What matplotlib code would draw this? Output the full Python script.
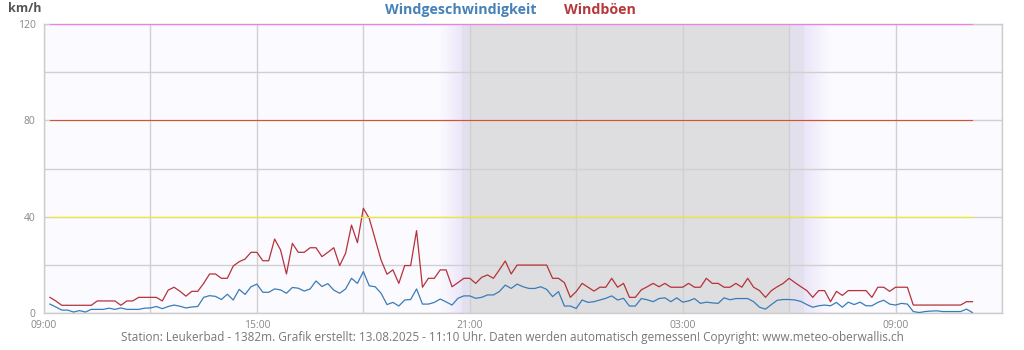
import numpy as np
import matplotlib
matplotlib.use("Agg")
import matplotlib.pyplot as plt
from matplotlib.colors import to_rgba

# Wind speed (km/h), 10-minute values from 09:10 to 11:10 next day
wind_speed = [
    3.7, 2.5, 1.2, 1.2, 0.4, 1.0, 0.4, 1.5, 1.5, 1.5,
    2.0, 1.5, 2.1, 1.5, 1.5, 1.5, 2.0, 2.1, 2.7, 1.8,
    2.7, 3.3, 2.8, 2.1, 2.5, 2.7, 6.5, 7.2, 6.9, 5.6,
    7.8, 5.4, 9.8, 7.7, 10.9, 12.0, 8.6, 8.6, 10.0, 9.6,
    8.2, 10.6, 10.3, 9.1, 10.0, 13.3, 11.0, 12.2, 9.5, 8.2,
    10.0, 14.4, 12.3, 17.2, 11.3, 10.9, 8.2, 3.5, 4.4, 2.9,
    5.4, 5.6, 10.0, 3.7, 3.7, 4.4, 5.8, 4.6, 3.3, 6.1,
    7.1, 7.1, 6.1, 6.5, 7.5, 7.5, 8.9, 11.6, 10.2, 12.0,
    10.9, 10.2, 10.2, 10.9, 9.8, 6.8, 8.9, 2.9, 2.9, 1.9,
    5.4, 4.4, 4.7, 5.4, 6.1, 7.1, 5.4, 6.1, 2.9, 2.9,
    6.0, 5.5, 4.7, 6.0, 6.3, 4.7, 6.3, 4.5, 5.0, 6.0,
    4.0, 4.5, 4.2, 4.0, 6.3, 5.5, 6.0, 6.0, 6.0, 4.7,
    2.4, 1.6, 3.5, 5.3, 5.6, 5.6, 5.4, 4.8, 3.5, 2.4,
    3.0, 3.3, 3.0, 4.4, 2.4, 4.5, 3.5, 4.5, 3.0, 3.0,
    4.4, 5.3, 3.7, 3.3, 4.0, 3.7, 0.6, 0.2, 0.6, 0.8,
    0.9, 0.6, 0.6, 0.6, 0.6, 1.6, 0.2,
]

# Gusts (km/h), same time steps
wind_gust = [
    6.5, 5.0, 3.2, 3.2, 3.2, 3.2, 3.2, 3.2, 5.0, 5.0,
    5.0, 5.0, 3.2, 5.0, 5.0, 6.5, 6.5, 6.5, 6.5, 5.0,
    9.5, 10.7, 9.0, 7.0, 9.0, 9.0, 12.3, 16.2, 16.2, 14.4,
    14.4, 19.5, 21.3, 22.4, 25.2, 25.2, 21.7, 21.7, 30.7, 26.2,
    16.2, 28.9, 25.2, 25.2, 27.1, 27.1, 23.4, 25.2, 27.1, 19.7,
    24.8, 36.5, 29.2, 43.5, 39.3, 30.7, 22.0, 16.1, 17.9, 12.3,
    19.7, 19.7, 34.2, 10.7, 14.4, 14.4, 17.9, 17.9, 10.9, 12.6,
    14.4, 14.4, 12.3, 14.8, 15.8, 14.4, 17.9, 21.6, 16.2, 19.9,
    19.9, 19.9, 19.9, 19.9, 19.9, 14.4, 14.4, 12.6, 6.5, 8.9,
    12.3, 10.7, 9.1, 10.7, 10.7, 14.4, 10.7, 12.3, 6.5, 6.5,
    9.6, 10.9, 12.3, 10.9, 12.3, 10.7, 10.7, 10.7, 12.3, 10.7,
    10.7, 14.4, 12.3, 12.3, 10.7, 10.7, 12.3, 10.7, 14.4, 10.7,
    9.3, 6.5, 9.3, 10.9, 12.3, 14.4, 12.6, 10.9, 9.3, 6.5,
    9.3, 9.3, 4.7, 9.0, 7.3, 9.3, 9.3, 9.3, 9.3, 6.5,
    10.7, 10.7, 9.0, 10.7, 10.7, 10.7, 3.3, 3.3, 3.3, 3.3,
    3.3, 3.3, 3.3, 3.3, 3.3, 4.7, 4.7,
]

# Reference levels (km/h) and their colours
ref_levels = [120, 80, 40]
ref_colors = ["#f07ef0", "#d9502e", "#f2e81e"]

tick_hours = [0, 6, 12, 18, 24]
tick_labels = ["09:00", "15:00", "21:00", "03:00", "09:00"]
y_ticks = [0, 40, 80, 120]

# Night and twilight, in hours after 09:00
dusk_start, dusk_band, night_start = 11.15, 11.78, 12.0
night_end, dawn_band, dawn_end = 21.0, 21.42, 22.15

BLUE = "#3a7cb8"
RED = "#b5323a"

hours = (np.arange(len(wind_speed)) + 1) / 6.0

fig = plt.figure(figsize=(10.24, 3.5), dpi=100)
W, H = 1024, 350
ax = fig.add_axes([44 / W, (H - 313) / H, (1002 - 44) / W, (313 - 24) / H])
bg = "#fbfaff"
ax.set_facecolor(bg)

# Night shading with twilight gradients
lav = np.array(to_rgba("#ebe5f8"))
bgc = np.array(to_rgba(bg))
t = np.linspace(0, 1, 64)[None, :, None]
grad_in = bgc * (1 - t) + lav * t
ax.imshow(grad_in, extent=(dusk_start, dusk_band, 0, 120), aspect="auto", zorder=0.5, interpolation="bilinear")
grad_out = lav * (1 - t) + bgc * t
ax.imshow(grad_out, extent=(dawn_band, dawn_end, 0, 120), aspect="auto", zorder=0.5, interpolation="bilinear")
ax.axvspan(dusk_band, night_start, color="#e3e0ee", lw=0, zorder=0.6)
ax.axvspan(night_end, dawn_band, color="#e3e0ee", lw=0, zorder=0.6)
ax.axvspan(night_start, night_end, color="#dedee0", lw=0, zorder=0.6)
ax.set_xlim(0, 27)
ax.set_ylim(0, 120)

# Grid
for yv in range(0, 121, 20):
    ax.axhline(yv, color="#d0d0d0", lw=1, zorder=1)
for xv in range(0, 28, 3):
    ax.axvline(xv, color="#d0d0d0", lw=1, zorder=1)

# Reference lines spanning the data period
for lvl, col in zip(ref_levels, ref_colors):
    ax.plot([hours[0], hours[-1]], [lvl, lvl], color=col, lw=0.8, zorder=4, clip_on=False)

ax.plot(hours, wind_gust, color=RED, lw=0.9, zorder=3)
ax.plot(hours, wind_speed, color=BLUE, lw=0.9, zorder=3)

for s in ax.spines.values():
    s.set_color("#cccccc")
    s.set_linewidth(1)

ax.set_xticks(tick_hours)
ax.set_xticklabels(tick_labels)
ax.set_yticks(y_ticks)
ax.tick_params(length=0, labelsize=7.5, colors="#888888")
ax.tick_params(axis="y", pad=6)
ax.tick_params(axis="x", pad=5)
for lab in ax.get_xticklabels() + ax.get_yticklabels():
    lab.set_fontfamily("Open Sans")
    lab.set_color("#888888")

fig.text(25 / W, 1 - 9 / H, "km/h", ha="center", va="center", fontsize=9,
         fontweight="bold", color="#555555", family="Open Sans")
fig.text(461 / W, 1 - 10 / H, "Windgeschwindigkeit", ha="center", va="center",
         fontsize=10.3, fontweight="bold", color="#4682b8", family="Open Sans")
fig.text(600 / W, 1 - 10 / H, "Windböen", ha="center", va="center",
         fontsize=10.3, fontweight="bold", color="#b53a3c", family="Open Sans")
fig.text(512 / W, 1 - 338 / H,
         "Station: Leukerbad - 1382m. Grafik erstellt: 13.08.2025 - 11:10 Uhr. "
         "Daten werden automatisch gemessen! Copyright: www.meteo-oberwallis.ch",
         ha="center", va="center", fontsize=8.5, color="#777777", family="Open Sans")

fig.savefig("out.png", dpi=100)
